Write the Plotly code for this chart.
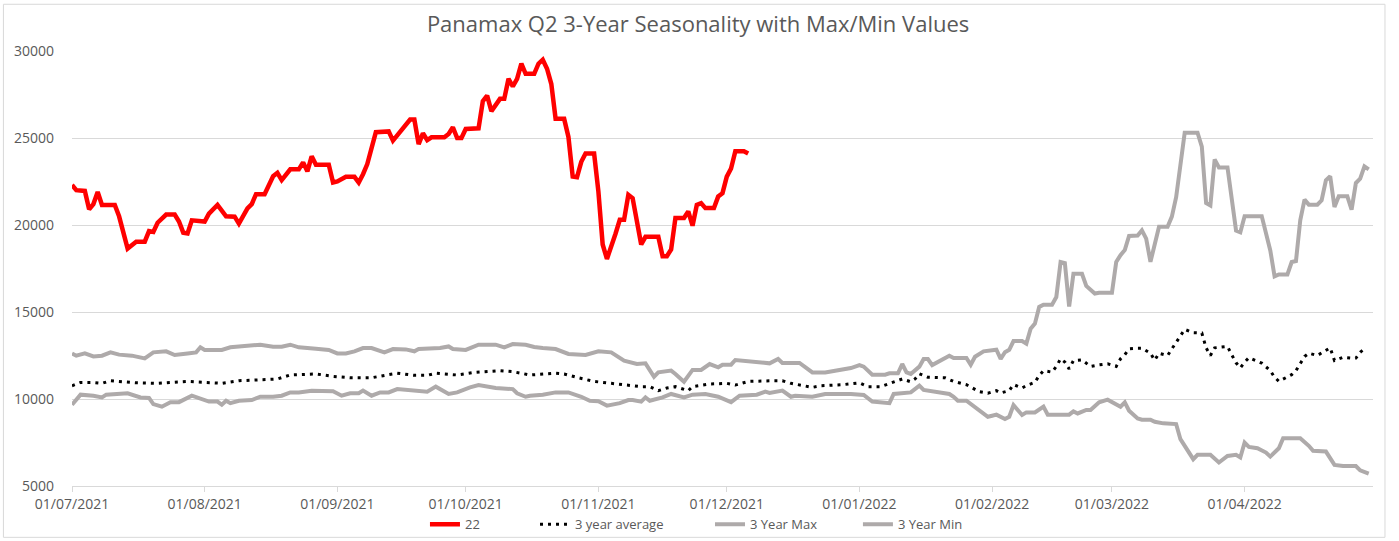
import pandas as pd
import plotly.graph_objects as go

START = "2021-07-01"
X_END = "2022-05-01"
TITLE = "Panamax Q2 3-Year Seasonality with Max/Min Values"

# x tick dates (month starts)
tick_dates = ["2021-07-01", "2021-08-01", "2021-09-01", "2021-10-01", "2021-11-01",
              "2021-12-01", "2022-01-01", "2022-02-01", "2022-03-01", "2022-04-01"]
y_ticks = [5000, 10000, 15000, 20000, 25000, 30000]

# Series "22" (days after 01/07/2021, value)
red_days = [0, 1, 3, 4, 5, 6, 7, 10, 11, 12, 13, 15, 17, 18, 19, 20, 22, 24, 25, 26, 27, 28,
            31, 32, 34, 36, 38, 39, 41, 42, 43, 45, 46, 47, 48, 49, 51, 53, 54, 55, 56, 57,
            60, 61, 62, 64, 66, 67, 68, 69, 71, 74, 75, 78, 79, 80, 81, 82, 83, 84, 87, 88,
            89, 90, 91, 92, 95, 96, 97, 98, 100, 101, 102, 103, 104, 105, 106, 108, 109, 110,
            111, 112, 113, 115, 116, 117, 118, 119, 120, 122, 123, 124, 125, 127, 128, 129,
            130, 131, 132, 133, 134, 137, 138, 139, 140, 141, 143, 144, 145, 146, 147, 148,
            150, 151, 152, 153, 154, 155, 157, 158]
red_vals = [22300, 22000, 21960, 20900, 21200, 21900, 21150, 21150, 20500, 19560, 18650, 19040,
            19040, 19650, 19600, 20130, 20600, 20600, 20200, 19560, 19520, 20270, 20200, 20650,
            21150, 20500, 20480, 20080, 20960, 21200, 21770, 21770, 22250, 22800, 23000, 22580,
            23200, 23200, 23600, 23080, 23950, 23460, 23460, 22440, 22500, 22770, 22770, 22440,
            22920, 23500, 25330, 25380, 24850, 25810, 26060, 26060, 24650, 25270, 24880, 25040,
            25040, 25230, 25620, 25000, 25000, 25520, 25560, 27120, 27440, 26540, 27250, 27250,
            28400, 27960, 28400, 29270, 28690, 28690, 29270, 29500, 28980, 28100, 26100, 26100,
            25060, 22780, 22740, 23630, 24110, 24110, 21920, 18880, 18050, 19500, 20300, 20300,
            21730, 21540, 20300, 18880, 19320, 19320, 18210, 18210, 18590, 20400, 20400, 20780,
            19960, 21160, 21260, 20970, 20970, 21640, 21830, 22780, 23250, 24240, 24240, 24110]

# 3 year average
avg_days = [0, 2, 5, 7, 9, 15, 20, 27, 35, 39, 48, 51, 57, 61, 65, 70, 74, 76, 80, 83, 85, 90,
            94, 100, 103, 107, 113, 115, 118, 122, 126, 133, 135, 137, 139, 141, 144, 145, 149,
            153, 155, 158, 164, 166, 168, 170, 173, 175, 180, 184, 186, 189, 191, 194, 196, 197,
            198, 200, 204, 206, 209, 212, 214, 216, 217, 219, 220, 222, 223, 225, 226, 227, 229,
            230, 231, 232, 233, 234, 236, 237, 238, 240, 242, 244, 245, 246, 247, 249, 250, 252,
            253, 254, 256, 257, 258, 259, 260, 262, 264, 265, 266, 267, 268, 270, 271, 272, 273,
            274, 275, 277, 278, 280, 281, 282, 283, 285, 286, 287, 288, 289, 291, 292, 294, 295,
            297, 299, 300, 301, 302]
avg_vals = [10760, 10950, 10950, 10900, 11050, 10930, 10900, 11010, 10900, 11050, 11150, 11380,
            11440, 11300, 11220, 11220, 11400, 11480, 11360, 11360, 11480, 11380, 11530, 11630,
            11570, 11380, 11480, 11440, 11240, 11010, 10900, 10710, 10710, 10480, 10630, 10710,
            10480, 10710, 10860, 10900, 10800, 11010, 11050, 11050, 10900, 10820, 10670, 10760,
            10820, 10930, 10710, 10710, 10900, 11150, 10990, 11150, 11450, 11250, 11220, 11010,
            10820, 10420, 10330, 10480, 10350, 10480, 10830, 10630, 10770, 10960, 11350, 11630,
            11540, 11870, 12310, 12120, 11730, 12210, 12250, 12060, 11870, 11960, 12020, 11870,
            12310, 12540, 12880, 12920, 12920, 12630, 12230, 12630, 12500, 12880, 13230, 13620,
            14000, 13810, 13790, 12940, 12500, 12940, 12980, 13020, 12540, 12080, 11790, 12120,
            12370, 12170, 12060, 11630, 11250, 11020, 11150, 11400, 11630, 12060, 12440, 12630,
            12500, 12650, 12940, 12210, 12400, 12350, 12350, 12690, 12880]

# 3 Year Max
max_days = [0, 1, 3, 5, 7, 9, 11, 14, 17, 19, 22, 24, 27, 29, 30, 31, 35, 37, 39, 44, 47, 49,
            51, 53, 57, 60, 62, 64, 66, 68, 70, 73, 75, 78, 80, 81, 86, 88, 89, 92, 95, 99, 101,
            103, 106, 108, 110, 113, 116, 120, 123, 126, 129, 132, 134, 136, 137, 140, 141, 143,
            145, 147, 149, 151, 152, 154, 155, 158, 163, 165, 166, 170, 173, 176, 179, 182, 184,
            185, 187, 190, 191, 193, 194, 195, 196, 198, 199, 200, 201, 205, 206, 209, 210, 211,
            213, 215, 216, 217, 218, 219, 220, 222, 223, 224, 225, 226, 227, 229, 230, 231, 232,
            233, 234, 236, 237, 239, 240, 243, 244, 245, 246, 247, 249, 250, 251, 252, 253, 254,
            256, 257, 258, 259, 260, 263, 264, 265, 266, 267, 268, 270, 271, 272, 273, 274, 278,
            279, 280, 281, 282, 284, 285, 286, 287, 288, 289, 291, 292, 293, 294, 295, 296, 298,
            299, 300, 301, 302, 303]
max_vals = [12620, 12490, 12620, 12450, 12490, 12680, 12550, 12490, 12330, 12680, 12740, 12530,
            12620, 12680, 12970, 12820, 12820, 12970, 13020, 13120, 13000, 13000, 13120, 12970,
            12890, 12820, 12620, 12620, 12740, 12930, 12930, 12680, 12870, 12850, 12740, 12870,
            12930, 13020, 12870, 12820, 13120, 13120, 12970, 13160, 13120, 12990, 12930, 12870,
            12590, 12530, 12740, 12680, 12200, 12010, 12050, 11280, 11530, 11630, 11440, 10990,
            11670, 11670, 12010, 11820, 11970, 11970, 12240, 12150, 12050, 12300, 12070, 12070,
            11530, 11530, 11630, 11780, 11950, 11860, 11400, 11400, 11480, 11480, 12010, 11530,
            11440, 11860, 12300, 12300, 11950, 12490, 12360, 12360, 11970, 12430, 12740, 12790,
            12830, 12310, 12690, 12830, 13330, 13330, 13180, 14040, 14330, 15290, 15420, 15420,
            15860, 17870, 17810, 15320, 17200, 17200, 16500, 16060, 16100, 16100, 17880, 18270,
            18560, 19370, 19390, 19690, 19220, 17880, 18940, 19900, 19900, 20480, 21600, 23600,
            25300, 25300, 24500, 21260, 21120, 23770, 23310, 23310, 21620, 19680, 19580, 20510,
            20510, 19500, 18540, 17050, 17160, 17160, 17870, 17930, 20270, 21460, 21170, 21170,
            21420, 22570, 22800, 21030, 21650, 21650, 20880, 22410, 22660, 23370, 23200]

# 3 Year Min
min_days = [0, 2, 5, 7, 8, 11, 13, 16, 18, 19, 21, 23, 25, 28, 30, 32, 34, 35, 36, 37, 39, 42,
            44, 47, 49, 51, 53, 56, 61, 63, 65, 67, 68, 70, 72, 74, 76, 78, 81, 83, 85, 88, 90,
            93, 95, 99, 103, 104, 106, 107, 110, 113, 116, 119, 121, 123, 125, 128, 130, 131,
            133, 134, 135, 138, 140, 143, 145, 148, 151, 154, 156, 160, 162, 163, 166, 168, 169,
            173, 176, 182, 185, 187, 191, 192, 196, 198, 199, 202, 205, 206, 207, 209, 212, 214,
            215, 216, 218, 219, 220, 222, 223, 225, 227, 228, 233, 234, 235, 237, 238, 240, 242,
            244, 245, 246, 247, 249, 250, 252, 253, 255, 257, 258, 259, 260, 262, 263, 266, 268,
            270, 272, 273, 274, 275, 277, 279, 280, 282, 283, 287, 289, 290, 293, 295, 297, 300,
            301, 303]
min_vals = [9670, 10250, 10190, 10090, 10250, 10290, 10330, 10090, 10060, 9710, 9560, 9820,
            9820, 10190, 10000, 9850, 9850, 9670, 9900, 9760, 9900, 9940, 10130, 10130, 10190,
            10380, 10380, 10480, 10440, 10190, 10330, 10330, 10480, 10190, 10380, 10380, 10570,
            10520, 10420, 10420, 10710, 10290, 10380, 10670, 10800, 10630, 10570, 10330, 10130,
            10190, 10250, 10380, 10380, 10130, 9900, 9870, 9620, 9760, 9940, 9940, 9850, 10090,
            9900, 10090, 10290, 10090, 10250, 10290, 10130, 9820, 10190, 10250, 10420, 10350,
            10480, 10130, 10190, 10130, 10290, 10290, 10230, 9850, 9760, 10290, 10380, 10770,
            10520, 10380, 10290, 10130, 9900, 9900, 9330, 8980, 9040, 9100, 8850, 8980, 9650,
            9080, 9230, 9230, 9560, 9100, 9100, 9290, 9170, 9370, 9370, 9810, 9960, 9650, 9560,
            9810, 9330, 8880, 8810, 8810, 8690, 8600, 8560, 8560, 7690, 7310, 6540, 6790, 6790,
            6350, 6730, 6790, 6640, 7500, 7250, 7170, 6920, 6690, 7170, 7750, 7750, 7310, 7020,
            6980, 6210, 6150, 6150, 5900, 5710]


def to_dates(days):
    return pd.Timestamp(START) + pd.to_timedelta(days, unit="D")


FONT = "Open Sans"
TXT = "#595959"
GRAY = "#AEAAAA"

fig = go.Figure()
fig.add_trace(go.Scatter(x=to_dates(red_days), y=red_vals, name="22", mode="lines",
                         line=dict(color="#FF0000", width=4.5), legend="legend"))
fig.add_trace(go.Scatter(x=to_dates(avg_days), y=avg_vals, name="3 year average", mode="lines",
                         line=dict(color="#000000", width=3, dash="3px,5px"), legend="legend2"))
fig.add_trace(go.Scatter(x=to_dates(max_days), y=max_vals, name="3 Year Max", mode="lines",
                         line=dict(color=GRAY, width=4), legend="legend3"))
fig.add_trace(go.Scatter(x=to_dates(min_days), y=min_vals, name="3 Year Min", mode="lines",
                         line=dict(color=GRAY, width=4), legend="legend4"))

leg_common = dict(orientation="h", xanchor="left", y=-0.088, yanchor="middle",
                  font=dict(family=FONT, size=13, color=TXT), bgcolor="rgba(0,0,0,0)",
                  borderwidth=0)

fig.update_layout(
    width=1399, height=541,
    margin=dict(l=72, r=26, t=51, b=55, autoexpand=False),
    paper_bgcolor="white", plot_bgcolor="white",
    font=dict(family=FONT, size=13, color=TXT),
    title=dict(text=TITLE, x=0.499, xref="container", xanchor="center",
               y=0.956, yref="container", yanchor="middle",
               font=dict(family=FONT, size=22, color=TXT)),
    showlegend=True,
    legend=dict(x=0.2713, **leg_common),
    legend2=dict(x=0.3559, **leg_common),
    legend3=dict(x=0.4904, **leg_common),
    legend4=dict(x=0.6041, **leg_common),
    shapes=[dict(type="rect", xref="paper", yref="paper", x0=-0.0527, x1=1.0092,
                 y0=-0.118, y1=1.1074, line=dict(color="#D9D9D9", width=1),
                 fillcolor="rgba(0,0,0,0)", layer="below")],
)
fig.update_xaxes(type="date", range=[START, X_END], tickvals=tick_dates,
                 tickformat="%d/%m/%Y", showgrid=False, showline=True, linecolor="#D9D9D9",
                 ticks="outside", ticklen=5, tickcolor="#D9D9D9", zeroline=False,
                 tickfont=dict(family=FONT, size=14, color=TXT))
fig.update_yaxes(range=[5000, 30000], tickvals=y_ticks, tickformat="d", showgrid=True,
                 gridcolor="#D9D9D9", gridwidth=1, zeroline=False, showline=False,
                 ticklabelstandoff=17, tickfont=dict(family=FONT, size=14, color=TXT))

fig.write_html("out.html", config={"displayModeBar": False},
               post_script="document.body.style.margin='0px';"
                           "document.body.style.overflow='hidden';")
